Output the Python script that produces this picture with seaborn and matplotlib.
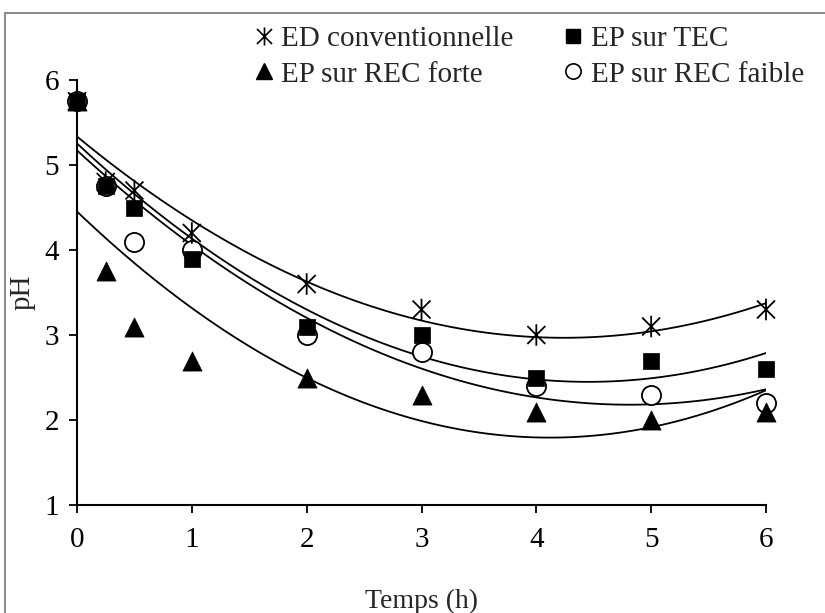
import numpy as np
import matplotlib
matplotlib.use("Agg")
import matplotlib.pyplot as plt
import seaborn as sns
from matplotlib.path import Path
from matplotlib.lines import Line2D
from matplotlib.patches import Rectangle

# données
temps = [0, 0.25, 0.5, 1, 2, 3, 4, 5, 6]
ph_ed = [5.75, 4.8, 4.7, 4.2, 3.6, 3.3, 3.0, 3.1, 3.3]
ph_tec = [5.75, 4.75, 4.5, 3.9, 3.1, 3.0, 2.5, 2.7, 2.6]
ph_rec_forte = [5.75, 3.75, 3.1, 2.7, 2.5, 2.3, 2.1, 2.0, 2.1]
ph_rec_faible = [5.75, 4.75, 4.1, 4.0, 3.0, 2.8, 2.4, 2.3, 2.2]
noms = ["ED conventionnelle", "EP sur TEC", "EP sur REC forte", "EP sur REC faible"]

sns.set_theme(style="white")
plt.rcParams["font.family"] = ["Liberation Serif", "DejaVu Serif"]

# astérisque façon Excel : X + barre verticale
asterisque = Path(
    [(-1, -1), (1, 1), (-1, 1), (1, -1), (0, -1.2), (0, 1.2)],
    [Path.MOVETO, Path.LINETO, Path.MOVETO, Path.LINETO, Path.MOVETO, Path.LINETO],
)

fig = plt.figure(figsize=(8.25, 6.13), dpi=100)
ax = fig.add_axes([77 / 825, 1 - 505 / 613, (766 - 77) / 825, (505 - 80) / 613])

# courbes de tendance polynomiales (ordre 2)
for vals in [ph_ed, ph_tec, ph_rec_forte, ph_rec_faible]:
    sns.regplot(x=np.array(temps), y=np.array(vals), order=2, ci=None, scatter=False,
                ax=ax, color="black", line_kws=dict(lw=1.3), truncate=True)

# points : cercles dessous, carrés dessus
ax.scatter(temps, ph_rec_faible, marker="o", s=190, facecolor="white", edgecolor="black",
           linewidth=1.3, zorder=4, clip_on=False)
ax.scatter(temps, ph_ed, marker=asterisque, s=240, facecolor="none", edgecolor="black",
           linewidth=1.3, zorder=5, clip_on=False)
ax.scatter(temps, ph_rec_forte, marker="^", s=190, facecolor="black", edgecolor="black",
           linewidth=0.5, zorder=6, clip_on=False)
ax.scatter(temps, ph_tec, marker="s", s=125, facecolor="black", edgecolor="black",
           linewidth=0.5, zorder=7, clip_on=False)

ax.set_xlim(0, 6)
ax.set_ylim(1, 6)
ax.set_xticks(range(0, 7))
ax.set_yticks(range(1, 7))
ax.set_xlabel("Temps (h)", fontsize=20, labelpad=26)
ax.set_ylabel("pH", fontsize=21, labelpad=6)
ax.tick_params(axis="both", direction="out", length=6, width=1.3, labelsize=21,
               bottom=True, left=True, colors="black")
ax.xaxis.set_tick_params(pad=10)
ax.yaxis.set_tick_params(pad=7)
for sp in ["top", "right"]:
    ax.spines[sp].set_visible(False)
for sp in ["left", "bottom"]:
    ax.spines[sp].set_color("black")
    ax.spines[sp].set_linewidth(1.5)

# légende (remplissage par colonnes)
poignees = {
    "ED conventionnelle": Line2D([], [], ls="none", marker=asterisque, ms=13, mec="black", mfc="none", mew=1.2),
    "EP sur TEC": Line2D([], [], ls="none", marker="s", ms=10, mec="black", mfc="black"),
    "EP sur REC forte": Line2D([], [], ls="none", marker="^", ms=11, mec="black", mfc="black"),
    "EP sur REC faible": Line2D([], [], ls="none", marker="o", ms=11, mec="black", mfc="white", mew=1.2),
}
ordre = [noms[0], noms[2], noms[1], noms[3]]
fig.legend([poignees[n] for n in ordre], ordre, ncol=2, loc="upper left",
           bbox_to_anchor=(252 / 825, 1 - 26 / 613), frameon=False, fontsize=21,
           handlelength=0.8, handletextpad=0.2, columnspacing=1.65, labelspacing=0.3,
           borderaxespad=0, borderpad=0)

# cadre gris du graphique
fig.patches.append(Rectangle((4.5 / 825, -0.2), 1.2, 1.2 - 13 / 613, transform=fig.transFigure,
                             fill=False, edgecolor="#8c8c8c", linewidth=1.5))

fig.savefig("out.png", dpi=100)
